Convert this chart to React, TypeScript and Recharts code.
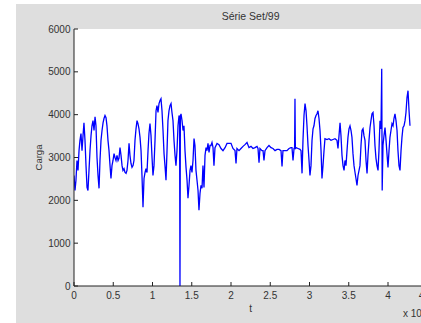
import { LineChart, Line, XAxis, YAxis, CartesianGrid } from "recharts";

// t (amostras) e carga, em quatro trechos
const tA = [
    0, 130, 250, 380, 510, 640, 760, 890, 1020, 1150,
    1270, 1400, 1530, 1660, 1780, 1910, 2040, 2170, 2290, 2420,
    2550, 2680, 2800, 2930, 3060, 3190, 3310, 3440, 3570, 3700,
    3820, 3950, 4080, 4200, 4330, 4460, 4590, 4710, 4840, 4970,
    5100, 5220, 5350, 5480, 5610, 5730, 5860, 5990, 6120, 6240,
    6370, 6500, 6630, 6750, 6880, 7010, 7130, 7260, 7390, 7520,
    7640, 7770, 7900, 8030, 8150, 8280, 8410,
];
const cargaA = [
    2580, 2230, 2470, 2930, 2700, 3160, 3400, 3560, 3160, 3510,
    3810, 3400, 2810, 2300, 2230, 2700, 3160, 3510, 3740, 3860,
    3630, 3950, 3740, 3000, 2580, 2280, 2930, 3400, 3630, 3810,
    3910, 3980, 3930, 3740, 3400, 3160, 2810, 2510, 2810, 2930,
    3090, 3000, 2930, 3050, 2930, 2980, 3230, 3050, 2810, 2700,
    2740, 2650, 2630, 2700, 2930, 3330, 3050, 2860, 2770, 2810,
    2930, 3400, 3670, 3860, 3790, 3670, 3470,
];

const tB = [
    8540, 8660, 8790, 8920, 9050, 9170, 9300, 9430, 9550, 9680,
    9810, 9940, 10060, 10190, 10320, 10450, 10570, 10700, 10830, 10960,
    11080, 11210, 11340, 11470, 11590, 11720, 11850, 11970, 12100, 12230,
    12360, 12480, 12610, 12740, 12870, 12990, 13120, 13250, 13380, 13450,
    13500, 13550, 13630, 13760, 13890, 14010, 14140, 14270, 14400, 14520,
    14650, 14780, 14900, 15030, 15160, 15290, 15410, 15540, 15670, 15800,
    15920, 16050, 16180, 16310, 16430, 16560, 16690, 16820, 16940, 17070,
    17200, 17330,
];
const cargaB = [
    3160, 2580, 1840, 2510, 2650, 2740, 2650, 3160, 3560, 3790,
    3510, 3000, 2580, 2810, 3400, 4090, 4210, 4050, 4260, 4330,
    4370, 4090, 3630, 3090, 2810, 2470, 3160, 3860, 4090, 4210,
    4260, 4050, 3860, 3400, 3050, 2810, 3160, 3740, 3980, 3950,
    0, 3950, 4020, 3860, 3630, 3740, 3160, 2770, 2470, 2050,
    2350, 2700, 2810, 2650, 2930, 3440, 3280, 2700, 2470, 2230,
    1770, 2160, 2350, 2280, 2810, 2300, 3050, 3230, 3160, 3330,
    3120, 3280,
];

const tC = [
    17450, 17580, 17710, 17830, 17960, 18220, 18470, 18730, 18980, 19240,
    19490, 19750, 20000, 20250, 20510, 20640, 20760, 21020, 21270, 21530,
    21780, 22040, 22290, 22550, 22800, 23060, 23310, 23440, 23570, 23690,
    23950, 24080, 24200, 24330, 24590, 24840, 25100, 25350, 25610, 25860,
    26120, 26370, 26500, 26620, 26880, 27130, 27390, 27640, 27770, 27900,
    28030, 28100, 28150, 28200, 28280, 28540, 28790,
];
const cargaC = [
    3280, 3350, 3230, 2810, 3230, 3330, 3300, 3210, 3160, 3230,
    3330, 3330, 3330, 3210, 3160, 2860, 3210, 3160, 3210, 3260,
    3300, 3350, 3230, 3260, 3210, 3230, 3260, 3210, 2880, 3210,
    3160, 3160, 2930, 3160, 3230, 3280, 3230, 3210, 3160, 3190,
    3190, 3160, 2790, 3160, 3160, 3160, 3210, 3230, 3230, 2930,
    3210, 3210, 4370, 3200, 3230, 3210, 3190,
];

const tD = [
    28920, 29050, 29170, 29300, 29430, 29560, 29680, 29810, 29940, 30060,
    30190, 30320, 30450, 30570, 30700, 30830, 30960, 31080, 31210, 31340,
    31470, 31590, 31720, 31850, 31970, 32230, 32480, 32740, 32990, 33250,
    33500, 33630, 33760, 33890, 34010, 34140, 34270, 34400, 34520, 34650,
    34780, 34900, 35030, 35160, 35290, 35410, 35540, 35670, 35800, 35920,
    36050, 36180, 36310, 36430, 36560, 36690, 36820, 36940, 37070, 37200,
    37330, 37450, 37580, 37710, 37830, 37960, 38090, 38220, 38340, 38470,
    38600, 38730, 38850, 38980, 39110, 39200, 39260, 39360, 39490, 39620,
    39750, 39870, 40000, 40130, 40250, 40380, 40510, 40640, 40760, 40890,
    41020, 41150, 41270, 41400, 41530, 41660, 41780, 41910, 42040, 42170,
    42290, 42420, 42550, 42680, 42800,
];
const cargaD = [
    3160, 2630, 3400, 3980, 4260, 4090, 3740, 3280, 2930, 2580,
    2810, 3400, 3670, 3740, 3910, 3980, 4020, 4090, 3910, 3630,
    3160, 2510, 2810, 3160, 3440, 3420, 3440, 3400, 3420, 3440,
    3400, 3210, 3510, 3810, 3510, 3050, 2810, 2700, 2930, 2810,
    3160, 3470, 3670, 3740, 3630, 3470, 3090, 2810, 2650, 2510,
    2350, 2580, 2700, 2810, 3280, 3630, 3670, 3510, 3400, 2930,
    2630, 3050, 3400, 3700, 3860, 4020, 4050, 3740, 3280, 2980,
    2810, 2700, 3160, 3860, 3670, 5070, 2230, 3280, 3510, 3700,
    3400, 3090, 2770, 3160, 3470, 3630, 3790, 3740, 3910, 4020,
    3860, 3630, 3160, 2810, 2700, 3160, 3470, 3700, 3740, 3860,
    4050, 4400, 4560, 4090, 3740,
];

const xTicks = [0, 5000, 10000, 15000, 20000, 25000, 30000, 35000, 40000, 45000];
const yTicks = [0, 1000, 2000, 3000, 4000, 5000, 6000];

const titulo = "Série Set/99";
const rotuloY = "Carga";
const rotuloX = "t";

const juntar = (ts: number[], cs: number[]) => ts.map((t, i) => ({ t, carga: cs[i] }));

const data = [
    ...juntar(tA, cargaA),
    ...juntar(tB, cargaB),
    ...juntar(tC, cargaC),
    ...juntar(tD, cargaD),
];

const font = '"Liberation Sans", Arial, sans-serif';
const textColor = "#333";
const axisColor = "#222";

export default function App() {
    return (
        <div style={{ position: "fixed", left: 0, top: 0, width: 421, height: 323, overflow: "hidden", background: "#fff" }}>
            <div style={{ position: "absolute", left: 16, top: 4, width: 420, height: 330, background: "#dedede" }} />
            <div style={{ position: "absolute", left: 0, top: 0 }}>
                <LineChart width={432} height={323} data={data} margin={{ top: 29, right: 4.75, bottom: 7, left: 24 }}>
                    <CartesianGrid fill="#fff" horizontal={false} vertical={false} />
                    <XAxis
                        dataKey="t"
                        type="number"
                        domain={[0, 45000]}
                        ticks={xTicks}
                        allowDataOverflow
                        height={30}
                        tickSize={-4}
                        tickMargin={10}
                        tickFormatter={(v) => String(v / 10000)}
                        tick={{ fontSize: 10, fill: textColor, fontFamily: font }}
                        axisLine={{ stroke: axisColor }}
                        tickLine={{ stroke: axisColor }}
                    />
                    <XAxis
                        xAxisId="top"
                        orientation="top"
                        type="number"
                        domain={[0, 45000]}
                        ticks={xTicks}
                        allowDataOverflow
                        height={0}
                        tickSize={-4}
                        tick={false}
                        axisLine={{ stroke: axisColor }}
                        tickLine={{ stroke: axisColor }}
                    />
                    <YAxis
                        type="number"
                        domain={[0, 6000]}
                        ticks={yTicks}
                        allowDataOverflow
                        width={50}
                        tickSize={-4}
                        tickMargin={7.5}
                        tick={{ fontSize: 10, fill: textColor, fontFamily: font }}
                        axisLine={{ stroke: axisColor }}
                        tickLine={{ stroke: axisColor }}
                    />
                    <Line
                        dataKey="carga"
                        type="linear"
                        stroke="#0000ff"
                        strokeWidth={1.3}
                        dot={false}
                        activeDot={false}
                        isAnimationActive={false}
                    />
                </LineChart>
            </div>
            <svg width={421} height={323} style={{ position: "absolute", left: 0, top: 0, pointerEvents: "none" }}>
                <g fontFamily={font} fill={textColor}>
                    <text x={250.6} y={20} fontSize={10.5} textAnchor="middle">{titulo}</text>
                    <text transform="translate(41.5,157.5) rotate(-90)" fontSize={9.5} textAnchor="middle">{rotuloY}</text>
                    <text x={250.6} y={311.5} fontSize={10} textAnchor="middle">{rotuloX}</text>
                    <text x={403} y={317} fontSize={10}>
                        x 10<tspan dy={-5} fontSize={8}>4</tspan>
                    </text>
                </g>
            </svg>
        </div>
    );
}
